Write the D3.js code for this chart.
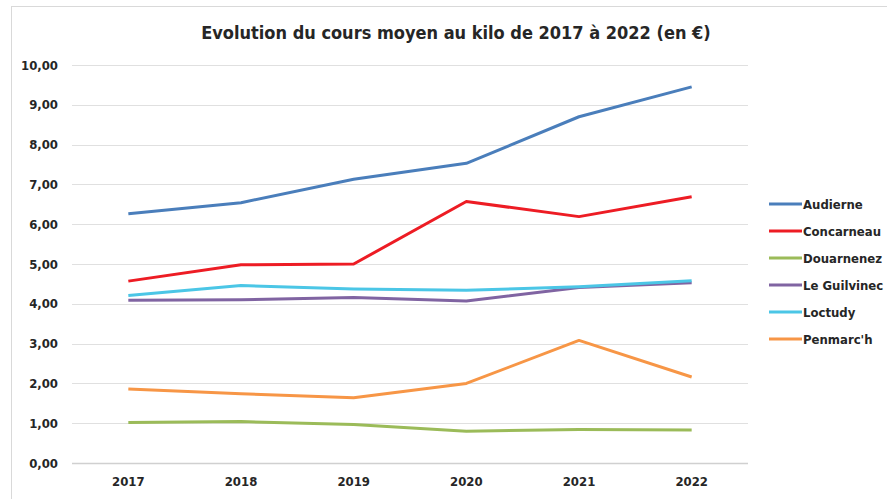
<!DOCTYPE html>
<meta charset="utf-8">
<style>
  body { margin: 0; background: #fff; }
  svg text { font-family: "Liberation Sans Narrow", "DejaVu Sans Condensed", "Open Sans", sans-serif; font-weight: bold; fill: #262626; }
</style>
<svg id="chart" width="887" height="499"></svg>
<script src="https://cdn.jsdelivr.net/npm/d3@7"></script>
<script>
// data
var years = ["2017", "2018", "2019", "2020", "2021", "2022"];
var ports = ["Audierne", "Concarneau", "Douarnenez", "Le Guilvinec", "Loctudy", "Penmarc'h"];
var audierne    = [6.26, 6.54, 7.13, 7.53, 8.70, 9.45];
var concarneau  = [4.57, 4.98, 5.00, 6.57, 6.19, 6.69];
var douarnenez  = [1.02, 1.04, 0.97, 0.80, 0.84, 0.83];
var guilvinec   = [4.09, 4.10, 4.16, 4.07, 4.41, 4.53];
var loctudy     = [4.21, 4.46, 4.37, 4.34, 4.43, 4.58];
var penmarch    = [1.86, 1.74, 1.64, 2.00, 3.08, 2.16];
var yTicks = [0, 1, 2, 3, 4, 5, 6, 7, 8, 9, 10];
var colors = ["#4a7ebb", "#ed1c24", "#9bbb59", "#8064a2", "#4bc6e6", "#f79646"];

var seriesValues = [audierne, concarneau, douarnenez, guilvinec, loctudy, penmarch];
var series = ports.map(function (p, i) {
    return { name: p, color: colors[i], values: seriesValues[i].map(function (v, j) { return { year: years[j], value: v }; }) };
});

var svg = d3.select("#chart");

// chart frame
svg.append("rect")
    .attr("x", 11.5).attr("y", 6.5)
    .attr("width", 900).attr("height", 520)
    .attr("fill", "none").attr("stroke", "#d9d9d9");

var plotLeft = 72, plotRight = 748, plotTop = 65, plotBottom = 463;

var x = d3.scaleBand().domain(years).range([plotLeft, plotRight]);
var y = d3.scaleLinear().domain([0, 10]).range([plotBottom, plotTop]);

// title
svg.append("text")
    .attr("x", 456).attr("y", 39)
    .attr("text-anchor", "middle")
    .style("font-size", "18px")
    .text("Evolution du cours moyen au kilo de 2017 à 2022 (en €)");

// gridlines
svg.append("g").selectAll("line")
    .data(yTicks)
    .join("line")
    .attr("x1", plotLeft).attr("x2", plotRight)
    .attr("y1", function (d) { return Math.round(y(d)) + 0.5; })
    .attr("y2", function (d) { return Math.round(y(d)) + 0.5; })
    .attr("stroke", function (d) { return d === 0 ? "#d0d0d0" : "#e0e0e0"; })
    .attr("stroke-width", function (d) { return d === 0 ? 1.5 : 1; });

// y axis labels
var yAxis = svg.append("g")
    .attr("transform", "translate(" + plotLeft + ",0)")
    .call(d3.axisLeft(y).tickValues(yTicks).tickSize(0).tickPadding(14)
        .tickFormat(function (d) { return d3.format(".2f")(d).replace(".", ","); }));
yAxis.select(".domain").remove();
yAxis.selectAll("text").style("font-size", "13px");

// x axis labels
var xAxis = svg.append("g")
    .attr("transform", "translate(0," + plotBottom + ")")
    .call(d3.axisBottom(x).tickSize(0).tickPadding(14));
xAxis.select(".domain").remove();
xAxis.selectAll("text").style("font-size", "13px");

// lines
var line = d3.line()
    .x(function (d) { return x(d.year) + x.bandwidth() / 2; })
    .y(function (d) { return y(d.value); });

svg.append("g").selectAll("path")
    .data(series)
    .join("path")
    .attr("d", function (d) { return line(d.values); })
    .attr("fill", "none")
    .attr("stroke", function (d) { return d.color; })
    .attr("stroke-width", 3)
    .attr("stroke-linejoin", "round");

// legend
var legend = svg.append("g").selectAll("g")
    .data(series)
    .join("g")
    .attr("transform", function (d, i) { return "translate(769," + (204 + i * 27) + ")"; });
legend.append("line")
    .attr("x1", 0).attr("x2", 33)
    .attr("stroke", function (d) { return d.color; })
    .attr("stroke-width", 3);
legend.append("text")
    .attr("x", 34).attr("y", 4.5)
    .style("font-size", "13px")
    .text(function (d) { return d.name; });
</script>
